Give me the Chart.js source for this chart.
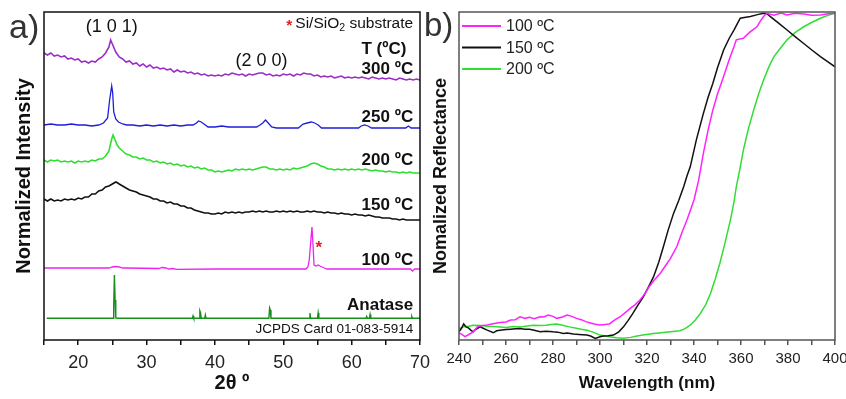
<!DOCTYPE html>
<html>
<head>
<meta charset="utf-8">
<script src="https://cdn.jsdelivr.net/npm/chart.js@4"></script>
<style>
  html, body { margin: 0; padding: 0; background: #fff; }
  #wrap { position: relative; width: 846px; height: 399px; overflow: hidden; }
  #xrd { position: absolute; left: 0; top: 0; }
  #uv { position: absolute; left: 420px; top: 0; }
</style>
</head>
<body>
<div id="wrap">
  <canvas id="xrd" width="430" height="399"></canvas>
  <canvas id="uv" width="426" height="399"></canvas>
</div>
<script>
// ---------- a) XRD patterns, stacked with offsets (2θ in degrees, intensity in a.u.) ----------
const xrd300 = [
  [15,287],[15.5,285],[16,287],[16.5,284],[17,285],[17.5,283],[18,284],[18.5,281],[19,282],[19.5,280],
  [20,281],[20.5,278],[21,279],[21.5,277],[22,279],[22.5,278],[23,281],[23.5,283],[24,287],[24.5,293],
  [24.75,300],[25,296],[25.5,288],[26,283],[26.5,281],[27,278],[27.5,279],[28,276],[28.5,277],[29,274],
  [29.5,276],[30,273],[30.5,275],[31,272],[31.5,273],[32,271],[32.5,272],[33,270],[33.5,271],[34,268],
  [34.5,270],[35,268],[35.5,269],[36,267],[36.5,268],[37,266],[37.5,267],[38,265],[38.5,266],[39,264],
  [39.5,265],[40,264],[40.5,265],[41,264],[41.5,266],[42,265],[42.5,267],[43,266],[43.5,265],[44,266],
  [44.5,264],[45,266],[45.5,265],[46,266],[46.5,267],[47,267],[47.5,265],[48,266],[48.5,264],[49,265],
  [49.5,264],[50,266],[50.5,265],[51,266],[51.5,264],[52,266],[52.5,265],[53,267],[53.5,266],[54,266],
  [54.5,264],[55,265],[55.5,263],[56,264],[56.5,263],[57,264],[57.5,262],[58,263],[58.5,264],[59,262],
  [59.5,263],[60,262],[60.5,263],[61,262],[61.5,263],[62,262],[62.5,261],[63,263],[63.5,262],[64,261],
  [64.5,262],[65,261],[65.5,262],[66,261],[66.5,260],[67,262],[67.5,261],[68,260],[68.5,261],[69,260],
  [69.5,261],[70,260]
];
const xrd250 = [
  [15,215],[16,216],[17,215],[18,215],[19,216],[20,215],[21,215],[22,214],[23,215],[23.7,217],
  [24.3,222],[24.6,240],[24.9,254],[25.05,247],[25.2,228],[25.5,221],[25.9,218],[26.5,216],[27.1,215],
  [28,215],[29,214],[30,215],[31,214],[32,215],[33,214],[34,215],[35,214],[36,215],[36.8,215],
  [37.3,217],[37.6,219],[38,218],[38.4,216],[39,213],[40,213],[41,214],[42,213],[43,213],[44,213],
  [45,213],[46.1,213],[46.6,215],[47,217],[47.4,220],[47.8,217],[48.3,213],[49,212],[50,212],[51,212],
  [52.2,212],[52.9,216],[53.5,217],[54.1,218],[54.6,217],[55.1,215],[55.6,212],[57,212],[58,212],
  [59,212],[60,212],[61,212],[61.4,214],[61.9,215],[62.4,214],[62.9,212],[64,212],[65,212],[66,212],
  [67,212],[67.9,212],[68.3,214],[68.7,212],[69.5,212],[70,212]
];
const xrd200 = [
  [15,180],[15.5,178],[16,180],[16.5,179],[17,180],[17.5,178],[18,179],[18.5,178],[19,179],[19.5,177],
  [20,179],[20.5,178],[21,179],[21.5,178],[22,180],[22.5,179],[23,181],[23.5,181],[24,184],[24.5,189],
  [24.9,201],[25.1,205],[25.4,200],[25.7,195],[26,192],[26.5,189],[27,186],[27.5,185],[28,183],[28.5,183],
  [29,181],[29.5,182],[30,180],[30.5,180],[31,178],[31.5,179],[32,177],[32.5,178],[33,176],[33.5,177],
  [34,175],[34.5,176],[35,174],[35.5,175],[36,173],[36.5,174],[37,172],[37.5,173],[38,171],[38.5,172],
  [39,170],[39.5,170],[40,168],[40.5,169],[41,168],[41.5,169],[42,170],[42.5,169],[43,171],[43.5,170],
  [44,171],[44.5,170],[45,171],[45.5,170],[46,171],[46.5,172],[47,173],[47.5,173],[48,171],[48.5,171],
  [49,170],[49.5,171],[50,170],[50.5,171],[51,170],[51.5,172],[52,171],[52.5,172],[53,173],[53.5,174],
  [54,176],[54.5,177],[55,176],[55.5,174],[56,173],[56.5,171],[57,171],[57.5,170],[58,171],[58.5,170],
  [59,171],[59.5,170],[60,171],[60.5,170],[61,171],[61.5,170],[62,171],[62.5,170],[63,169],[63.5,170],
  [64,169],[64.5,169],[65,168],[65.5,169],[66,168],[66.5,168],[67,167],[67.5,168],[68,167],[68.5,168],
  [69,167],[69.5,167],[70,167]
];
const xrd150 = [
  [15,141],[15.5,139],[16,141],[16.5,139],[17,140],[17.5,139],[18,141],[18.5,140],[19,141],[19.5,140],
  [20,142],[20.5,141],[21,143],[21.5,143],[22,146],[22.5,146],[23,149],[23.5,150],[24,153],[24.5,154],
  [25,156],[25.5,158],[25.8,157],[26,156],[26.5,154],[27,152],[27.5,150],[28,149],[28.5,148],[29,146],
  [29.5,145],[30,144],[30.5,143],[31,141],[31.5,141],[32,139],[32.5,139],[33,137],[33.5,138],[34,136],
  [34.5,136],[35,134],[35.5,134],[36,132],[36.5,132],[37,130],[37.5,129],[38,128],[38.5,127],[39,127],
  [39.5,126],[40,126],[40.5,127],[41,126],[41.5,128],[42,127],[42.5,128],[43,127],[43.5,128],[44,127],
  [44.5,128],[45,128],[45.5,129],[46,128],[46.5,129],[47,128],[47.5,129],[48,128],[48.5,128],[49,129],
  [49.5,128],[50,129],[50.5,128],[51,129],[51.5,128],[52,129],[52.5,128],[53,128],[53.5,129],[54,128],
  [54.5,129],[55,128],[55.5,128],[56,127],[56.5,128],[57,127],[57.5,127],[58,126],[58.5,127],[59,126],
  [59.5,126],[60,125],[60.5,126],[61,125],[61.5,125],[62,124],[62.5,125],[63,124],[63.5,123],[64,123],
  [64.5,122],[65,122],[65.5,122],[66,121],[66.5,121],[67,120],[67.5,121],[68,120],[68.5,120],[69,120],
  [69.5,120],[70,120]
];
const xrd100 = [
  [15,72],[20,72],[24.5,72],[25,73],[25.5,73.5],[26,73],[26.5,72],[27,72],[31.8,71.5],[32.3,72.5],
  [32.8,72],[33.3,71],[33.8,71.5],[34.4,70.7],[40,71],[45,71],[50,71],[53.3,71],[53.6,73],[53.8,80],
  [54,97],[54.2,113],[54.35,95],[54.5,75],[54.8,74],[55.1,75],[55.5,73.5],[56,72],[56.4,71],[60,71],
  [65,71],[68.6,71],[68.9,69],[69.2,71],[70,71]
];
const anatase = [
  [15.4,21.7],[25.1,21.7],[25.2,35],[25.3,65],[25.4,40],[25.5,22],[25.7,21.7],[36.7,21.7],[36.8,24],
  [36.9,21.7],[37.7,21.7],[37.8,29],[37.9,27],[38,21.7],[38.5,21.7],[38.6,25],[38.7,21.7],[47.9,21.7],
  [48,32],[48.1,30],[48.2,21.7],[53.8,21.7],[53.9,27],[54,21.7],[55,21.7],[55.1,27],[55.2,21.7],
  [62.1,21.7],[62.2,23.5],[62.3,21.7],[62.6,21.7],[62.7,25.5],[62.8,21.7],[68.7,21.7],[68.8,23.5],
  [68.9,21.7],[70,21.7]
];
const xrdTicks = [20, 30, 40, 50, 60, 70];

// ---------- b) Normalized reflectance (wavelength in nm) ----------
const refl100 = [
  [240,0.022],[241,0.018],[242.6,0.010],[244,0.016],[246,0.025],[248,0.041],[250,0.044],[252,0.046],
  [255,0.050],[257.5,0.053],[260,0.055],[262,0.061],[264,0.062],[266,0.071],[268,0.066],[270,0.069],
  [272,0.065],[274.5,0.071],[276,0.070],[278,0.076],[280,0.072],[281.6,0.066],[284,0.070],[286,0.076],
  [288,0.072],[290,0.066],[292,0.062],[294,0.056],[296,0.052],[298,0.048],[300,0.046],[302,0.047],
  [304,0.049],[306,0.060],[308.6,0.071],[311,0.085],[313,0.097],[315,0.108],[317,0.122],[319,0.140],
  [321,0.163],[323,0.182],[325.6,0.203],[328,0.228],[330,0.249],[332.7,0.285],[335,0.330],[337,0.366],
  [340,0.427],[342,0.488],[344,0.570],[346,0.640],[348,0.701],[350,0.750],[352.6,0.803],[355,0.855],
  [357,0.894],[358,0.915],[361,0.920],[364,0.940],[366.8,0.955],[368,0.970],[369.6,0.986],[371,0.996],
  [374,0.990],[377,0.997],[379.6,0.991],[383,0.996],[386.7,0.994],[390,0.990],[393.8,0.991],[397,0.995],
  [400,0.996]
];
const refl150 = [
  [240,0.025],[241,0.035],[242,0.049],[243,0.040],[244,0.037],[245,0.030],[246,0.025],[247,0.032],
  [249,0.040],[250.5,0.035],[252,0.030],[254.6,0.022],[256,0.028],[257.5,0.030],[260,0.032],[262,0.033],
  [264,0.034],[266,0.035],[268,0.033],[270,0.033],[272,0.030],[274.5,0.025],[277,0.027],[280,0.025],
  [282,0.024],[284.4,0.020],[286,0.021],[288.7,0.018],[291,0.017],[294.4,0.015],[296,0.012],[298,0.005],
  [300,0.010],[301.5,0.012],[303.5,0.013],[305.7,0.015],[308,0.025],[310,0.040],[312,0.060],[314,0.081],
  [316,0.105],[318.5,0.132],[320.5,0.160],[322.8,0.193],[325,0.237],[327,0.285],[329,0.335],[331.3,0.386],
  [333.5,0.425],[335.6,0.467],[337,0.500],[338.4,0.528],[341,0.610],[344,0.691],[346,0.740],[348,0.782],
  [350,0.830],[352.6,0.884],[355,0.920],[357,0.945],[358.5,0.965],[359.7,0.981],[362,0.984],[364,0.986],
  [367,0.992],[369.6,0.996],[371,0.995],[372.5,0.986],[376,0.966],[379.6,0.945],[383,0.925],[386.7,0.904],
  [390,0.885],[393.8,0.864],[397,0.848],[400,0.833]
];
const refl200 = [
  [240,0.035],[242,0.040],[244,0.042],[246,0.045],[249,0.044],[252,0.042],[255,0.041],[257.5,0.040],
  [260,0.038],[263,0.041],[266,0.040],[269,0.043],[271.6,0.045],[274,0.044],[277,0.045],[279,0.047],
  [281.6,0.049],[284,0.045],[287,0.040],[290,0.036],[292,0.033],[294.4,0.030],[297,0.024],[300,0.015],
  [302,0.012],[304,0.010],[307,0.007],[310,0.005],[313,0.008],[315.7,0.012],[319,0.016],[322.8,0.020],
  [326,0.022],[330,0.025],[334,0.028],[336,0.034],[338.4,0.045],[340.5,0.060],[342.7,0.081],[345,0.108],
  [347,0.142],[349,0.185],[351,0.234],[353,0.290],[355.5,0.366],[357,0.420],[358,0.467],[359.5,0.520],
  [361,0.579],[363,0.640],[365.4,0.701],[367.5,0.750],[369.6,0.793],[372,0.835],[374,0.864],[377,0.892],
  [379.6,0.915],[383,0.937],[386.7,0.955],[390,0.968],[393.8,0.981],[397,0.990],[400,0.996]
];
const reflTicks = [240, 260, 280, 300, 320, 340, 360, 380, 400];

// ---------- shared helpers ----------
const FONT = "'Liberation Sans', Arial, Helvetica, sans-serif";
const toPoints = pairs => pairs.map(([x, y]) => ({ x, y }));
const line = (label, pairs, color, width) => ({
  label, data: toPoints(pairs), borderColor: color, borderWidth: width,
  pointRadius: 0, tension: 0, fill: false
});
// fixed axis band sizes; edge tick labels may hang outside the plot box
const fixHeight = h => s => { s.height = h; s.paddingLeft = 0; s.paddingRight = 0; };
const fixWidth = w => s => { s.width = w; s.paddingTop = 0; s.paddingBottom = 0; };

// box drawn around the plot area
const framePlugin = {
  id: 'frame',
  afterDatasetsDraw(chart, args, opts) {
    const { ctx, chartArea: a } = chart;
    ctx.save();
    ctx.strokeStyle = opts.color;
    ctx.lineWidth = opts.width;
    ctx.strokeRect(a.left, a.top, a.right - a.left, a.bottom - a.top);
    ctx.restore();
  }
};

// free text drawn in data coordinates, plus the panel letter
const notesPlugin = {
  id: 'notes',
  afterDraw(chart, args, opts) {
    const { ctx, scales: { x, y } } = chart;
    ctx.save();
    ctx.textBaseline = 'middle';
    for (const n of opts.items) {
      ctx.font = `${n.bold ? 'bold ' : ''}${n.size}px ${FONT}`;
      ctx.fillStyle = n.color || '#111';
      ctx.textAlign = n.align || 'left';
      ctx.fillText(n.text, x.getPixelForValue(n.x), y.getPixelForValue(n.y));
    }
    if (opts.panel) {
      ctx.font = `${opts.panel.size}px ${FONT}`;
      ctx.fillStyle = '#333';
      ctx.textAlign = 'left';
      ctx.textBaseline = 'alphabetic';
      ctx.fillText(opts.panel.text, opts.panel.left, opts.panel.baseline);
    }
    if (opts.substrate) {
      // red asterisk, then "Si/SiO" with subscript 2, then " substrate"
      const s = opts.substrate;
      const right = x.getPixelForValue(s.x);
      const cy = y.getPixelForValue(s.y);
      ctx.textAlign = 'left';
      ctx.textBaseline = 'middle';
      ctx.font = `${s.size}px ${FONT}`;
      const w1 = ctx.measureText('Si/SiO').width;
      const w3 = ctx.measureText(' substrate').width;
      ctx.font = `${s.size * 0.68}px ${FONT}`;
      const w2 = ctx.measureText('2').width;
      const px = right - (w1 + w2 + w3);
      ctx.fillStyle = '#111';
      ctx.font = `${s.size}px ${FONT}`;
      ctx.fillText('Si/SiO', px, cy);
      ctx.font = `${s.size * 0.68}px ${FONT}`;
      ctx.fillText('2', px + w1, cy + s.size * 0.3);
      ctx.font = `${s.size}px ${FONT}`;
      ctx.fillText(' substrate', px + w1 + w2, cy);
      ctx.fillStyle = '#e02020';
      ctx.font = `bold ${s.size}px ${FONT}`;
      ctx.textAlign = 'right';
      ctx.fillText('*', px - 3, cy + 2);
    }
    ctx.restore();
  }
};

// line legend in the top-left corner of the reflectance plot
const lineLegendPlugin = {
  id: 'lineLegend',
  afterDraw(chart, args, opts) {
    const { ctx, chartArea: a } = chart;
    ctx.save();
    ctx.font = `${opts.size}px ${FONT}`;
    ctx.textBaseline = 'middle';
    ctx.textAlign = 'left';
    chart.data.datasets.forEach((ds, i) => {
      const yy = a.top + opts.firstRow + i * opts.rowGap;
      ctx.strokeStyle = ds.borderColor;
      ctx.lineWidth = 2;
      ctx.beginPath();
      ctx.moveTo(a.left + 3, yy);
      ctx.lineTo(a.left + 42, yy);
      ctx.stroke();
      ctx.fillStyle = '#222';
      ctx.fillText(ds.label, a.left + 47, yy + 1);
    });
    ctx.restore();
  }
};

// ---------- a) XRD ----------
new Chart(document.getElementById('xrd'), {
  type: 'line',
  data: {
    datasets: [
      line('300 ºC', xrd300, '#9b2dc9', 1.6),
      line('250 ºC', xrd250, '#1e1ed8', 1.3),
      line('200 ºC', xrd200, '#2ee02e', 1.6),
      line('150 ºC', xrd150, '#111111', 1.6),
      line('100 ºC', xrd100, '#ee22ee', 1.3),
      line('Anatase', anatase, '#178f1b', 1.4)
    ]
  },
  options: {
    responsive: false,
    animation: false,
    layout: { padding: { top: 12, right: 10, left: 0, bottom: 0 } },
    plugins: {
      legend: { display: false },
      tooltip: { enabled: false },
      frame: { color: '#111', width: 1.5 },
      notes: {
        panel: { text: 'a)', size: 34, left: 9, baseline: 38 },
        substrate: { x: 69, y: 316.7, size: 15.5 },
        items: [
          { text: '(1 0 1)', x: 24.9, y: 312.5, align: 'center', size: 18 },
          { text: '(2 0 0)', x: 46.8, y: 279.3, align: 'center', size: 18 },
          { text: 'T (ºC)', x: 68.0, y: 290.7, align: 'right', size: 17, bold: true },
          { text: '300 ºC', x: 69, y: 270.7, align: 'right', size: 17, bold: true },
          { text: '250 ºC', x: 69, y: 222.7, align: 'right', size: 17, bold: true },
          { text: '200 ºC', x: 69, y: 179.3, align: 'right', size: 17, bold: true },
          { text: '150 ºC', x: 69, y: 135, align: 'right', size: 17, bold: true },
          { text: '100 ºC', x: 69, y: 80, align: 'right', size: 17, bold: true },
          { text: 'Anatase', x: 69, y: 34.3, align: 'right', size: 17, bold: true },
          { text: 'JCPDS Card 01-083-5914', x: 69, y: 11, align: 'right', size: 13.5 },
          { text: '*', x: 55.2, y: 92, align: 'center', size: 17, bold: true, color: '#e02020' }
        ]
      }
    },
    scales: {
      x: {
        type: 'linear', min: 15, max: 70,
        afterFit: fixHeight(59),
        ticks: {
          stepSize: 5, autoSkip: false, maxRotation: 0, padding: 7,
          callback: v => (xrdTicks.includes(v) ? String(v) : ''),
          font: { family: FONT, size: 18 }, color: '#222'
        },
        grid: { drawOnChartArea: false, tickLength: 5, color: '#111', lineWidth: 1.5 },
        border: { display: false },
        title: {
          display: true, text: '2θ º', color: '#111',
          font: { family: FONT, size: 20, weight: 'bold' }, padding: { top: 0, bottom: 4 }
        }
      },
      y: {
        type: 'linear', min: 0, max: 328,
        afterFit: fixWidth(44),
        ticks: { display: false },
        grid: { display: false },
        border: { display: false },
        title: {
          display: true, text: 'Normalized Intensity', color: '#111',
          font: { family: FONT, size: 20, weight: 'bold' }, padding: { top: 12, bottom: 0 }
        }
      }
    }
  },
  plugins: [framePlugin, notesPlugin]
});

// ---------- b) Reflectance ----------
new Chart(document.getElementById('uv'), {
  type: 'line',
  data: {
    datasets: [
      line('100 ºC', refl100, '#ff22ff', 1.5),
      line('150 ºC', refl150, '#111111', 1.5),
      line('200 ºC', refl200, '#33dd33', 1.5)
    ]
  },
  options: {
    responsive: false,
    animation: false,
    layout: { padding: { top: 12, right: 11, left: 0, bottom: 0 } },
    plugins: {
      legend: { display: false },
      tooltip: { enabled: false },
      frame: { color: '#555', width: 1.5 },
      lineLegend: { size: 16, firstRow: 14, rowGap: 21.5 },
      notes: { panel: { text: 'b)', size: 33, left: 4, baseline: 36 }, items: [] }
    },
    scales: {
      x: {
        type: 'linear', min: 240, max: 400,
        afterFit: fixHeight(59),
        ticks: {
          stepSize: 10, autoSkip: false, maxRotation: 0, padding: 5,
          callback: v => (reflTicks.includes(v) ? String(v) : ''),
          font: { family: FONT, size: 15 }, color: '#222'
        },
        grid: { drawOnChartArea: false, tickLength: 5, color: '#555', lineWidth: 1.5 },
        border: { display: false },
        title: {
          display: true, text: 'Wavelength (nm)', color: '#111',
          font: { family: FONT, size: 17, weight: 'bold' }, padding: { top: 0, bottom: 5 }
        }
      },
      y: {
        type: 'linear', min: 0, max: 1,
        afterFit: fixWidth(39),
        ticks: { display: false },
        grid: { display: false },
        border: { display: false },
        title: {
          display: true, text: 'Nomalized Reflectance', color: '#111',
          font: { family: FONT, size: 18, weight: 'bold' }, padding: { top: 10, bottom: 0 }
        }
      }
    }
  },
  plugins: [framePlugin, notesPlugin, lineLegendPlugin]
});
</script>
</body>
</html>
